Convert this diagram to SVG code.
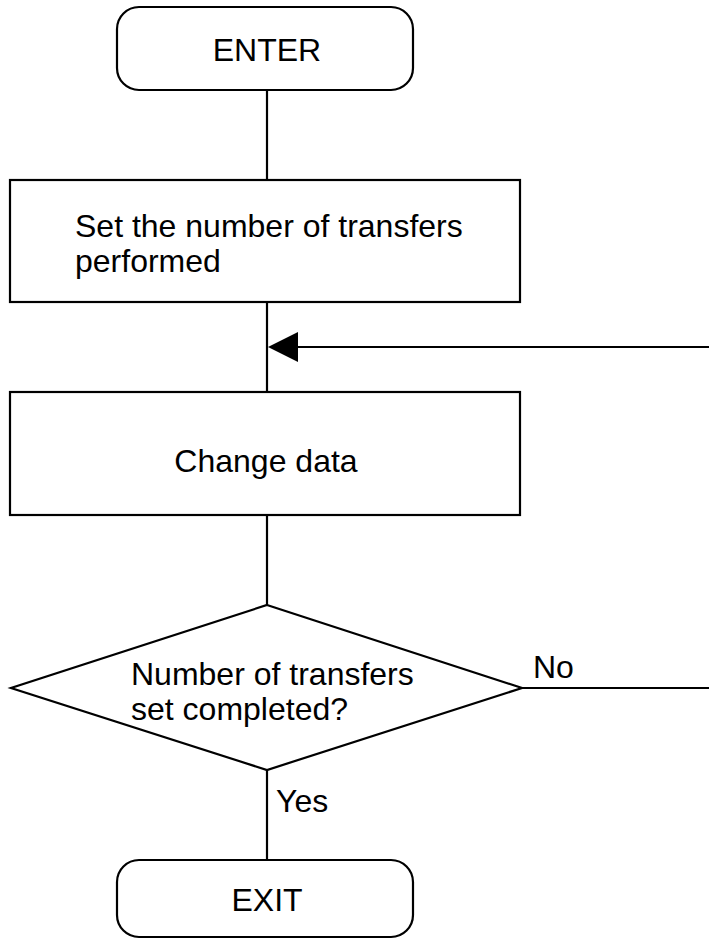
<svg xmlns="http://www.w3.org/2000/svg" width="709" height="943" viewBox="0 0 709 943">
  <style>
    .shape { fill: #ffffff; stroke: #000000; stroke-width: 2.2; }
    .wire { fill: none; stroke: #000000; stroke-width: 2.2; }
    .label { font-family: "Liberation Sans", Arial, sans-serif; font-size: 32px; fill: #000000; }
    .mid { text-anchor: middle; }
  </style>
  <rect width="709" height="943" fill="#ffffff"/>

  <!-- connectors -->
  <g id="connectors">
    <line class="wire" x1="267" y1="90" x2="267" y2="180"/>
    <line class="wire" x1="267" y1="302" x2="267" y2="392"/>
    <line class="wire" x1="267" y1="515" x2="267" y2="605"/>
    <line class="wire" x1="267" y1="770" x2="267" y2="860"/>
    <line class="wire" x1="522" y1="688" x2="709" y2="688"/>
    <path class="wire" d="M709,347 L298,347"/>
    <path d="M268,347 L298,332 L298,362 Z" fill="#000000"/>
    <text class="label" x="533" y="678">No</text>
    <text class="label" x="276" y="812">Yes</text>
  </g>

  <!-- start terminal -->
  <g id="enter">
    <rect class="shape" x="117" y="7" width="296" height="83" rx="22" ry="22"/>
    <text class="label mid" x="267" y="61">ENTER</text>
  </g>

  <!-- set transfer count -->
  <g id="set-count">
    <rect class="shape" x="10" y="180" width="510" height="122"/>
    <text class="label" x="75" y="237">Set the number of transfers</text>
    <text class="label" x="75" y="272">performed</text>
  </g>

  <!-- change data -->
  <g id="change-data">
    <rect class="shape" x="10" y="392" width="510" height="123"/>
    <text class="label mid" x="266" y="472">Change data</text>
  </g>

  <!-- decision -->
  <g id="check-done">
    <polygon class="shape" points="267,605 522,688 267,770 11,688"/>
    <text class="label" x="131" y="685">Number of transfers</text>
    <text class="label" x="131" y="720">set completed?</text>
  </g>

  <!-- end terminal -->
  <g id="exit">
    <rect class="shape" x="117" y="860" width="296" height="77" rx="22" ry="22"/>
    <text class="label mid" x="267" y="911">EXIT</text>
  </g>
</svg>
